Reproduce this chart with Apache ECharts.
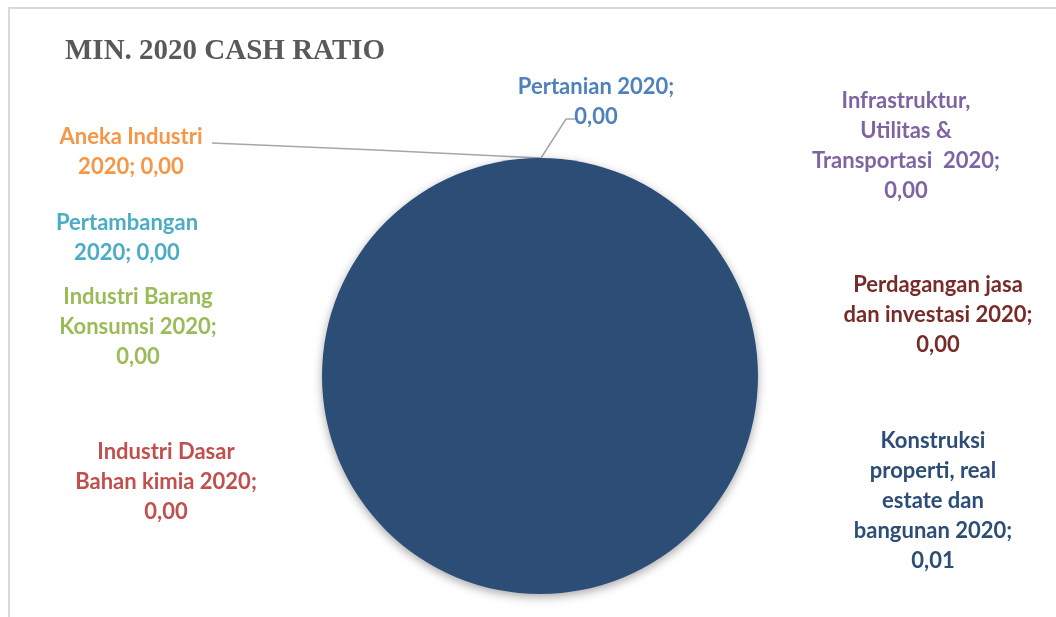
<!DOCTYPE html>
<html>
<head>
<meta charset="utf-8">
<script src="https://cdn.jsdelivr.net/npm/echarts@6/dist/echarts.min.js"></script>
<style>
  html, body { margin: 0; padding: 0; background: #ffffff; }
  #frame { position: absolute; left: 8px; top: 7px; width: 1060px; height: 620px;
           border-left: 2px solid #d9d9d9; border-top: 2px solid #d9d9d9; box-sizing: border-box; }
  #chart { position: absolute; left: 0; top: 0; width: 1056px; height: 617px; }
</style>
</head>
<body>
<div id="frame"></div>
<div id="chart"></div>
<script>
// Sector names as they wrap in their labels
const categories = [
  'Pertanian 2020',
  'Pertambangan\n2020',
  'Industri Dasar\nBahan kimia 2020',
  'Aneka Industri\n2020',
  'Industri Barang\nKonsumsi 2020',
  'Konstruksi\nproperti, real\nestate dan\nbangunan 2020',
  'Infrastruktur,\nUtilitas &\nTransportasi  2020',
  'Perdagangan jasa\ndan investasi 2020'
];
// Minimum cash ratio per sector, 2020
const values = [0.00, 0.00, 0.00, 0.00, 0.00, 0.01, 0.00, 0.00];
// Whether the value goes on its own line
const valueOnNewLine = [true, false, true, false, true, true, true, true];
const colors = ['#4F81BD', '#4BACC6', '#C0504D', '#F79646', '#9BBB59', '#2C4D75', '#8064A2', '#772C2A'];

// Label anchors (center x, top y) and leader lines
const labelPos = [
  [596, 72], [127, 208], [166, 437], [131, 122],
  [138, 282], [933, 426], [906, 86], [938, 270]
];
const leaderLines = {
  0: [[541, 158], [566, 119], [576, 119]],
  3: [[540, 158], [376, 150], [212, 143]]
};

const fmt = v => v.toFixed(2).replace('.', ',');

const chart = echarts.init(document.getElementById('chart'));
chart.setOption({
  animation: false,
  title: {
    text: 'MIN. 2020 CASH RATIO',
    left: 60, top: 32,
    textStyle: { fontFamily: 'Liberation Serif', fontWeight: 'bold', fontSize: 29, color: '#595959' }
  },
  series: [{
    type: 'pie',
    center: [540, 376],
    radius: 218,
    startAngle: 90,
    clockwise: true,
    avoidLabelOverlap: false,
    itemStyle: { borderWidth: 0, shadowBlur: 10, shadowOffsetY: 3, shadowColor: 'rgba(0,0,0,0.35)' },
    emphasis: { disabled: true },
    data: categories.map((c, i) => ({
      name: c,
      value: values[i],
      itemStyle: { color: colors[i] },
      label: { color: colors[i] },
      labelLine: { show: leaderLines[i] !== undefined }
    })),
    label: {
      show: true,
      position: 'outside',
      fontFamily: 'Lato',
      fontWeight: 'bold',
      fontSize: 22,
      lineHeight: 30,
      align: 'center',
      formatter: p => p.name + ';' + (valueOnNewLine[p.dataIndex] ? '\n' : ' ') + fmt(p.value)
    },
    labelLine: { show: true, lineStyle: { color: '#a6a6a6', width: 1.5 } },
    labelLayout: params => {
      const i = params.dataIndex;
      const out = { x: labelPos[i][0], y: labelPos[i][1], align: 'center', verticalAlign: 'top' };
      if (leaderLines[i]) out.labelLinePoints = leaderLines[i];
      return out;
    }
  }]
});
</script>
</body>
</html>
